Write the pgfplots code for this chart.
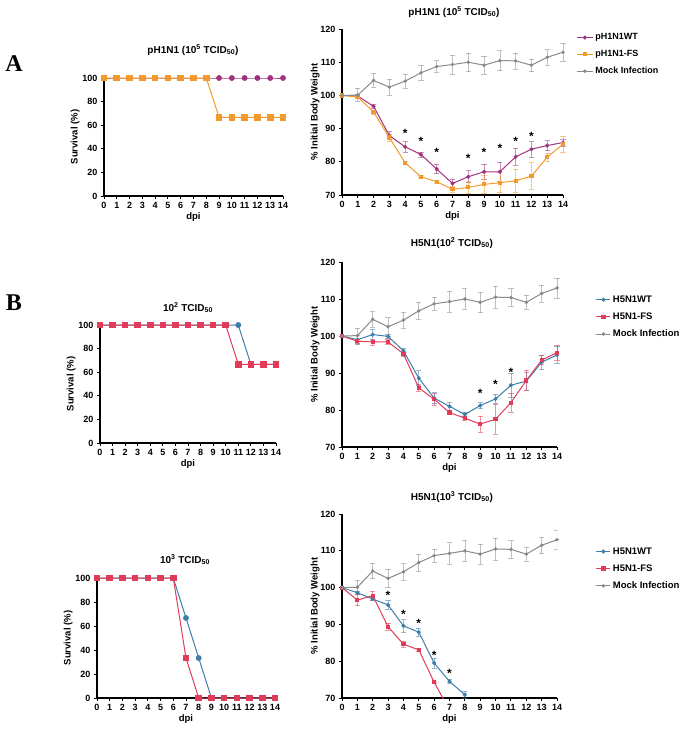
\documentclass[border=0pt]{standalone}
\usepackage{fontspec}
\setmainfont{Liberation Sans}
\newfontfamily\seriffont{Liberation Serif}
\usepackage{pgfplots}
\pgfplotsset{compat=1.18}
\definecolor{wtp}{HTML}{A0337F}
\definecolor{fso}{HTML}{F39A2C}
\definecolor{mockc}{HTML}{8A8A8A}
\definecolor{wtb}{HTML}{3E7EA8}
\definecolor{fsr}{HTML}{E03C5A}
\definecolor{starc}{HTML}{555555}

\pgfplotsset{
  base/.style={scale only axis, axis lines*=left, xmin=0, xmax=14, xtick={0,...,14},
    axis line style={line width=1.4pt, black},
    tick style={line width=0.9pt, black}, tick align=outside, major tick length=3pt,
    /pgf/number format/assume math mode=true,
    tick label style={font=\fontsize{9}{9}\selectfont\bfseries},
    label style={font=\fontsize{9.5}{10}\selectfont\bfseries},
    xlabel={dpi}, xlabel style={yshift=3pt},
    every axis plot/.append style={line width=1pt},
  },
  surv/.style={base, ymin=0, ymax=100, ytick={0,20,...,100}, ylabel={Survival (\%)}, ylabel shift=-4pt, clip=false},
  wt/.style={base, ymin=70, ymax=120, ytick={70,80,...,120}, ylabel={\% Initial Body Weight}, ylabel shift=-6pt,
    legend style={draw=none, fill=none, inner sep=0pt, anchor=north west,
      font=\fontsize{9}{10}\selectfont\bfseries, row sep=5pt},
    legend cell align=left,
    legend image code/.code={\draw[mark repeat=2,mark phase=2,##1] plot coordinates {(0pt,0pt) (8pt,0pt) (16pt,0pt)};}},
  ebar/.style={error bars/.cd, y dir=both, y explicit,
    error bar style={line width=0.6pt, opacity=0.55},
    error mark options={rotate=90, mark size=2.6pt, line width=0.6pt, opacity=0.55}},
  stars/.style={only marks, mark=text, text mark={\fontsize{12}{12}\selectfont\bfseries *}, color=starc, forget plot},
}

\begin{document}
\begin{tikzpicture}
\path[use as bounding box] (0pt,0pt) rectangle (685pt,-731pt);

% panel labels
\node[font=\seriffont\bfseries\fontsize{24}{24}\selectfont] at (14pt,-64pt) {A};
\node[font=\seriffont\bfseries\fontsize{24}{24}\selectfont] at (14pt,-303pt) {B};

% titles
\node[font=\fontsize{10}{12}\selectfont\bfseries] at (193pt,-50pt) {pH1N1 (10\textsuperscript{5} TCID\textsubscript{50})};
\node[font=\fontsize{10}{12}\selectfont\bfseries] at (454pt,-12pt) {pH1N1 (10\textsuperscript{5} TCID\textsubscript{50})};
\node[font=\fontsize{10}{12}\selectfont\bfseries] at (188pt,-308pt) {10\textsuperscript{2} TCID\textsubscript{50}};
\node[font=\fontsize{10}{12}\selectfont\bfseries] at (452pt,-243pt) {H5N1(10\textsuperscript{2} TCID\textsubscript{50})};
\node[font=\fontsize{10}{12}\selectfont\bfseries] at (185pt,-560pt) {10\textsuperscript{3} TCID\textsubscript{50}};
\node[font=\fontsize{10}{12}\selectfont\bfseries] at (452pt,-497pt) {H5N1(10\textsuperscript{3} TCID\textsubscript{50})};

%================ A survival
\begin{axis}[surv, at={(104pt,-196pt)}, anchor=south west, width=179pt, height=118pt]
\addplot[wtp, mark=*, mark size=2.4pt] coordinates {(0,100)(1,100)(2,100)(3,100)(4,100)(5,100)(6,100)(7,100)(8,100)(9,100)(10,100)(11,100)(12,100)(13,100)(14,100)};
\addplot[fso, mark=square*, mark size=2.8pt] coordinates {(0,100)(1,100)(2,100)(3,100)(4,100)(5,100)(6,100)(7,100)(8,100)(9,66.7)(10,66.7)(11,66.7)(12,66.7)(13,66.7)(14,66.7)};
\end{axis}

%================ A weight
\begin{axis}[wt, clip=false, at={(342pt,-195pt)}, anchor=south west, width=221pt, height=166pt,
  legend style={at={(1.06,0.985)}}]
\addplot[wtp, mark=*, mark size=1.5pt, ebar] coordinates {
(0,100)+-(0,0) (1,99.8)+-(0,0.4) (2,96.7)+-(0,0.6) (3,87.9)+-(0,1.2) (4,84.5)+-(0,1.6)
(5,82.2)+-(0,0.8) (6,77.8)+-(0,1.4) (7,73.5)+-(0,1.2) (8,75.5)+-(0,1.8) (9,77.0)+-(0,2.3)
(10,77.0)+-(0,2.8) (11,81.5)+-(0,2.6) (12,83.8)+-(0,2.3) (13,84.9)+-(0,1.5) (14,85.8)+-(0,1.0)};
\addlegendentry{pH1N1WT}
\addplot[fso, mark=square*, mark size=1.6pt, ebar] coordinates {
(0,100)+-(0,0) (1,99.5)+-(0,0.5) (2,95.0)+-(0,0.6) (3,87.3)+-(0,1.0) (4,79.7)+-(0,0.6)
(5,75.5)+-(0,0.3) (6,74.0)+-(0,0.5) (7,71.7)+-(0,0.8) (8,72.3)+-(0,1.8) (9,73.2)+-(0,2.6)
(10,73.7)+-(0,3.0) (11,74.3)+-(0,3.4) (12,75.7)+-(0,4.0) (13,81.4)+-(0,1.3) (14,85.3)+-(0,2.4)};
\addlegendentry{pH1N1-FS}
\addplot[mockc, mark=*, mark size=1.2pt, ebar] coordinates {
(0,100)+-(0,0) (1,100.1)+-(0,2.0) (2,104.5)+-(0,2.1) (3,102.5)+-(0,2.5) (4,104.3)+-(0,2.2)
(5,106.8)+-(0,2.3) (6,108.7)+-(0,1.8) (7,109.3)+-(0,2.9) (8,110.0)+-(0,2.8) (9,109.1)+-(0,2.8)
(10,110.5)+-(0,3.0) (11,110.4)+-(0,2.4) (12,109.1)+-(0,1.9) (13,111.5)+-(0,2.3) (14,113.0)+-(0,2.7)};
\addlegendentry{Mock Infection}
\addplot[stars] coordinates {(4,88.6)(5,86.1)(6,82.9)(8,80.9)(9,82.9)(10,84.1)(11,86.1)(12,87.8)};
\end{axis}

%================ B top survival
\begin{axis}[surv, at={(100pt,-443pt)}, anchor=south west, width=176pt, height=118pt]
\addplot[wtb, mark=*, mark size=2.4pt] coordinates {(0,100)(1,100)(2,100)(3,100)(4,100)(5,100)(6,100)(7,100)(8,100)(9,100)(10,100)(11,100)(12,66.7)(13,66.7)(14,66.7)};
\addplot[fsr, mark=square*, mark size=2.8pt] coordinates {(0,100)(1,100)(2,100)(3,100)(4,100)(5,100)(6,100)(7,100)(8,100)(9,100)(10,100)(11,66.7)(12,66.7)(13,66.7)(14,66.7)};
\end{axis}

%================ B top weight
\begin{axis}[wt, clip=false, at={(342pt,-447pt)}, anchor=south west, width=215pt, height=185pt,
  legend style={at={(1.18,0.83)}, font=\fontsize{9.5}{10}\selectfont\bfseries, row sep=5pt},
  legend image code/.code={\draw[mark repeat=2,mark phase=2,#1] plot coordinates {(0pt,0pt) (7pt,0pt) (14pt,0pt)};}]
\addplot[wtb, mark=*, mark size=1.5pt, ebar] coordinates {
(0,100)+-(0,0) (1,99.0)+-(0,1.3) (2,100.4)+-(0,1.5) (3,99.9)+-(0,0.5) (4,96.0)+-(0,0.8)
(5,88.6)+-(0,2.0) (6,83.2)+-(0,1.5) (7,81.0)+-(0,1.2) (8,78.8)+-(0,0.6) (9,81.2)+-(0,0.8)
(10,83.0)+-(0,1.2) (11,86.7)+-(0,3.2) (12,87.8)+-(0,2.5) (13,92.9)+-(0,2.0) (14,94.9)+-(0,2.3)};
\addlegendentry{H5N1WT}
\addplot[fsr, mark=square*, mark size=1.6pt, ebar] coordinates {
(0,100)+-(0,0) (1,98.6)+-(0,0.6) (2,98.4)+-(0,0.8) (3,98.4)+-(0,0.6) (4,95.2)+-(0,0.8)
(5,86.0)+-(0,0.9) (6,82.9)+-(0,1.5) (7,79.3)+-(0,0.5) (8,77.8)+-(0,0.5) (9,76.2)+-(0,2.2)
(10,77.5)+-(0,4.0) (11,82.0)+-(0,2.5) (12,88.0)+-(0,2.8) (13,93.5)+-(0,1.2) (14,95.5)+-(0,2.0)};
\addlegendentry{H5N1-FS}
\addplot[mockc, mark=*, mark size=1.2pt, ebar] coordinates {
(0,100)+-(0,0) (1,100.1)+-(0,2.0) (2,104.5)+-(0,2.1) (3,102.5)+-(0,2.5) (4,104.3)+-(0,2.2)
(5,106.8)+-(0,2.3) (6,108.7)+-(0,1.8) (7,109.3)+-(0,2.9) (8,110.0)+-(0,2.8) (9,109.1)+-(0,2.8)
(10,110.5)+-(0,3.0) (11,110.4)+-(0,2.4) (12,109.1)+-(0,1.9) (13,111.5)+-(0,2.3) (14,113.0)+-(0,2.7)};
\addlegendentry{Mock Infection}
\addplot[stars] coordinates {(9,84.6)(10,87.0)(11,90.2)};
\end{axis}

%================ B bottom survival
\begin{axis}[surv, at={(97pt,-698pt)}, anchor=south west, width=178pt, height=120pt]
\addplot[wtb, mark=*, mark size=2.4pt] coordinates {(0,100)(1,100)(2,100)(3,100)(4,100)(5,100)(6,100)(7,66.7)(8,33.3)(9,0)(10,0)(11,0)(12,0)(13,0)(14,0)};
\addplot[fsr, mark=square*, mark size=2.8pt] coordinates {(0,100)(1,100)(2,100)(3,100)(4,100)(5,100)(6,100)(7,33.3)(8,0)(9,0)(10,0)(11,0)(12,0)(13,0)(14,0)};
\end{axis}

%================ B bottom weight
\begin{axis}[wt, at={(342pt,-698pt)}, anchor=south west, width=215pt, height=184pt,
  legend style={at={(1.18,0.83)}, font=\fontsize{9.5}{10}\selectfont\bfseries, row sep=5pt},
  legend image code/.code={\draw[mark repeat=2,mark phase=2,#1] plot coordinates {(0pt,0pt) (7pt,0pt) (14pt,0pt)};}]
\addplot[wtb, mark=*, mark size=1.5pt, ebar] coordinates {
(0,100)+-(0,0) (1,98.6)+-(0,0.5) (2,96.9)+-(0,0.3) (3,95.3)+-(0,1.2) (4,89.6)+-(0,1.7)
(5,87.9)+-(0,1.0) (6,79.5)+-(0,1.4) (7,74.5)+-(0,0.5) (8,70.9)+-(0,1.0)};
\addlegendentry{H5N1WT}
\addplot[fsr, mark=square*, mark size=1.6pt, ebar] coordinates {
(0,100)+-(0,0) (1,96.6)+-(0,1.5) (2,97.8)+-(0,1.2) (3,89.4)+-(0,1.0) (4,84.6)+-(0,0.8)
(5,83.1)+-(0,0.5) (6,74.3)+-(0,0.3)};
\addlegendentry{H5N1-FS}
\addplot[mockc, mark=*, mark size=1.2pt, ebar] coordinates {
(0,100)+-(0,0) (1,100.1)+-(0,2.0) (2,104.5)+-(0,2.1) (3,102.5)+-(0,2.5) (4,104.3)+-(0,2.2)
(5,106.8)+-(0,2.3) (6,108.7)+-(0,1.8) (7,109.3)+-(0,2.9) (8,110.0)+-(0,2.8) (9,109.1)+-(0,2.8)
(10,110.5)+-(0,3.0) (11,110.4)+-(0,2.4) (12,109.1)+-(0,1.9) (13,111.5)+-(0,2.3) (14,113.0)+-(0,2.7)};
\addlegendentry{Mock Infection}
\addplot[fsr, no marks, forget plot] coordinates {(6,74.3)(7,66.7)};
\addplot[stars] coordinates {(3,97.8)(4,92.7)(5,90.4)(6,81.7)(7,76.7)};
\end{axis}
\end{tikzpicture}
\end{document}
